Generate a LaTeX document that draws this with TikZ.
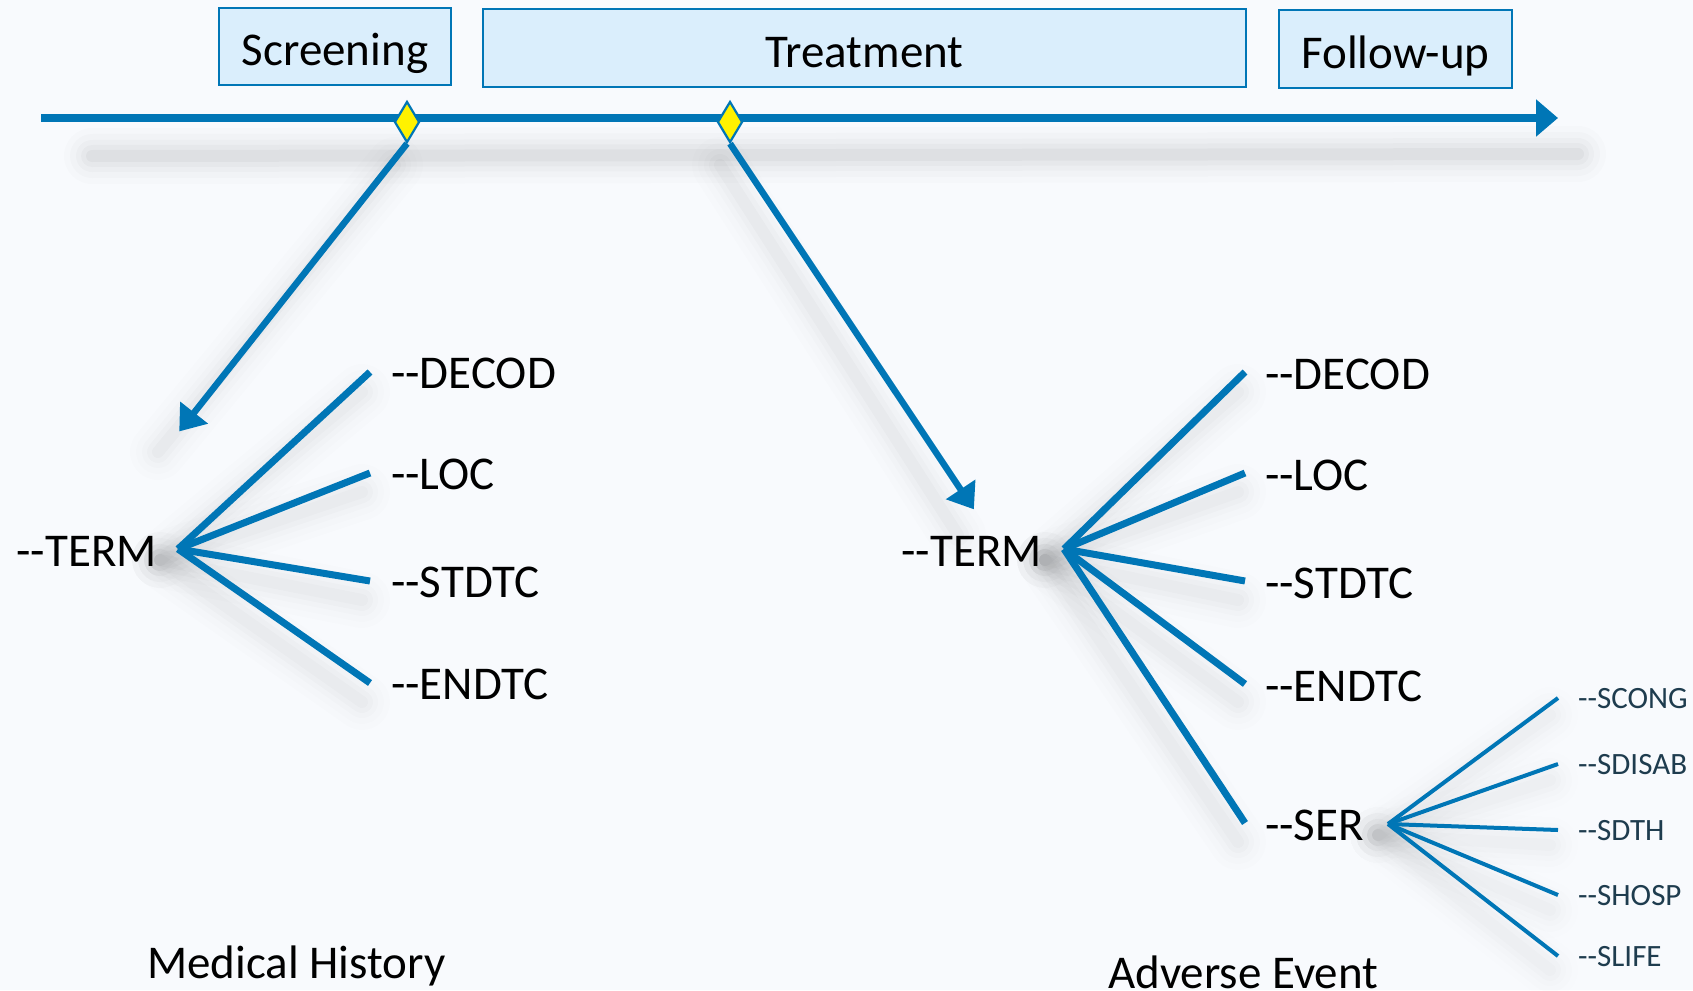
\documentclass[tikz,border=0pt]{standalone}
\usepackage{fontspec}
\setmainfont{Carlito}
\usetikzlibrary{arrows.meta,shapes.geometric}
\definecolor{tlblue}{RGB}{0,118,182}
\definecolor{boxfill}{RGB}{218,238,252}
\definecolor{bgcol}{RGB}{248,250,253}
\definecolor{smalltext}{RGB}{30,60,78}
\newcommand{\softshadow}[3]{%
  \foreach \w/\o in {56/0.012,44/0.015,32/0.02,22/0.025,12/0.03}{%
    \draw[line width=\w pt, black, opacity=\o*#3, line cap=round] #1 -- #2;}}
\tikzset{
  phase/.style={draw=tlblue, line width=2pt, fill=boxfill, inner sep=0pt,
    text height=38pt, text depth=0pt, font=\fontsize{47}{50}\selectfont},
  milestone/.style={diamond, draw=tlblue, line width=2.2pt, fill=yellow,
    minimum width=25pt, minimum height=41pt, inner sep=0pt},
  timeline/.style={tlblue, line width=8pt, -{Triangle[length=22pt,width=36pt]}},
  pointer/.style={tlblue, line width=6.5pt, shorten >=2pt, -{Triangle[length=24pt,width=34pt]}},
  branch/.style={tlblue, line width=7pt},
  subbranch/.style={tlblue, line width=4pt},
  biglabel/.style={inner sep=0pt, font=\fontsize{47}{50}\selectfont},
  smalllabel/.style={inner sep=0pt, text=smalltext, font=\fontsize{31}{34}\selectfont},
}
\begin{document}
\begin{tikzpicture}[x=1pt,y=-1pt]
\useasboundingbox (0,0) rectangle (1693,990);
\fill[bgcol] (0,0) rectangle (1693,990);

% shadows
\softshadow{(92,156)}{(1578,154)}{1.0}
\softshadow{(395,165)}{(158,452)}{0.6}
\softshadow{(720,165)}{(958,535)}{0.6}
\foreach \y in {392,492,600,702}{\softshadow{(160,560)}{(362,\y)}{0.55}}
\foreach \y in {392,492,600,702,842}{\softshadow{(1045,560)}{(1238,\y)}{0.55}}
\foreach \y in {715,780,845,910,970}{\softshadow{(1378,835)}{(1550,\y)}{0.4}}

% phase boxes
\node[phase, minimum width=232pt, minimum height=77pt] (scr) at (335,46.5) {Screening};
\node[phase, minimum width=763pt, minimum height=78pt] (trt) at (864.5,48) {Treatment};
\node[phase, minimum width=233pt, minimum height=78pt] (fup) at (1395.5,49) {Follow-up};

% timeline
\coordinate (tl0) at (41,118);
\coordinate (tl1) at (1558,118);
\draw[timeline] (tl0) -- (tl1);

% milestones
\node[milestone] (m1) at (407,122) {};
\node[milestone] (m2) at (730,122) {};

% pointer arrows
\coordinate (tipL) at (178,433);
\coordinate (tipR) at (975,511);
\draw[pointer] (m1.south) -- (tipL);
\draw[pointer] (m2.south) -- (tipR);

% Medical History fan
\coordinate (oL) at (178,549);
\node[biglabel, anchor=east] (termL) at (157,551) {-{}-TERM};
\foreach \n/\y/\t in {a/372/-{}-DECOD, b/473/-{}-LOC, c/581/-{}-STDTC, d/683/-{}-ENDTC}{
  \coordinate (eL\n) at (370,\y);
  \node[biglabel, anchor=west] (lL\n) at (391,\y+1) {\t};
  \draw[branch] (oL) -- (eL\n);
}

% Adverse Event fan
\coordinate (oR) at (1064,549);
\node[biglabel, anchor=east] (termR) at (1042,551) {-{}-TERM};
\foreach \n/\y/\t in {a/372/-{}-DECOD, b/473/-{}-LOC, c/581/-{}-STDTC, d/684/-{}-ENDTC, e/823/-{}-SER}{
  \coordinate (eR\n) at (1245,\y);
  \node[biglabel, anchor=west] (lR\n) at (1265,\y+2) {\t};
  \draw[branch] (oR) -- (eR\n);
}

% SER sub-fan
\coordinate (oS) at (1388,824);
\foreach \n/\y/\t in {a/698/-{}-SCONG, b/764/-{}-SDISAB, c/830/-{}-SDTH, d/895/-{}-SHOSP, e/956/-{}-SLIFE}{
  \coordinate (eS\n) at (1558,\y);
  \node[smalllabel, anchor=west] (lS\n) at (1578,\y+1) {\t};
  \draw[subbranch] (oS) -- (eS\n);
}

% captions
\node[biglabel, anchor=base west] (mh) at (147,978) {Medical History};
\node[biglabel, anchor=base west] (ae) at (1108,988) {Adverse Event};
\end{tikzpicture}
\end{document}
